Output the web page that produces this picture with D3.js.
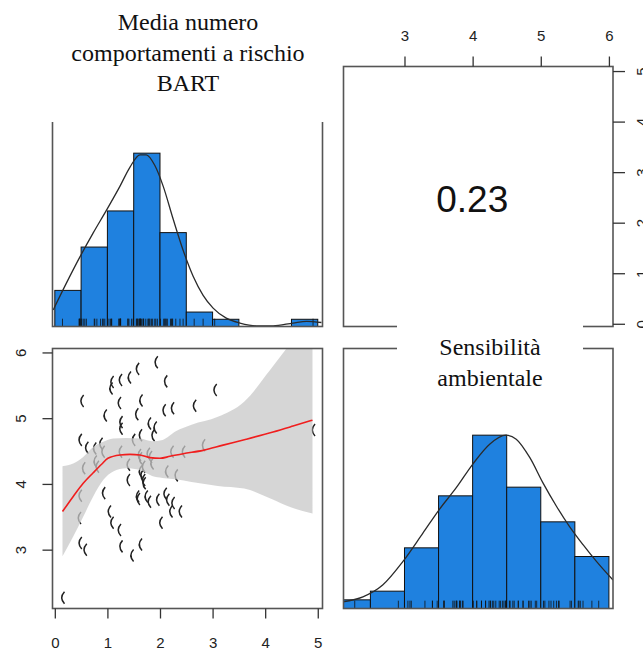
<!DOCTYPE html>
<html>
<head>
<meta charset="utf-8">
<script src="https://cdn.jsdelivr.net/npm/d3@7"></script>
<style>
  body { margin: 0; background: #fff; }
</style>
</head>
<body>
<svg id="chart" width="643" height="650"></svg>
<script>
// ---- data ----
// scatter: x = Media numero comportamenti a rischio BART, y = Sensibilità ambientale
var bartVals = [1.92,1.565,1.41,1.24,1.08,1.06,2.10,0.51,3.04,1.22,1.63,2.65,2.07,2.23,0.95,1.55,1.25,1.25,1.79,1.90,1.86,1.62,1.49,0.475,0.60,0.75,0.87,4.91,
  0.54,0.80,0.91,1.24,1.39,1.60,1.68,1.77,1.84,2.12,2.22,2.30,2.44,2.82,0.475,0.46,
  1.39,1.65,1.69,0.92,1.565,1.58,1.73,1.79,1.95,2.14,2.24,2.20,2.38,2.01,1.03,1.08,1.22,1.25,1.46,1.62,0.475,0.57,0.146,
  0.76,1.62,1.81,1.62,1.68,2.09];
var sensVals = [5.85,5.75,5.62,5.58,5.55,5.45,5.56,5.26,5.43,5.23,5.27,5.19,5.12,5.15,5.04,5.06,4.94,4.84,4.92,4.86,4.74,4.74,4.67,4.67,4.55,4.54,4.61,4.82,
  4.24,4.26,4.49,4.49,4.29,4.44,4.26,4.46,4.31,4.19,4.49,4.13,4.49,4.59,3.82,3.48,
  4.06,4.13,4.01,3.86,3.81,3.77,3.81,3.73,3.76,3.76,3.71,3.58,3.58,3.41,3.58,3.41,3.30,3.05,2.91,3.08,3.10,3.00,2.27,
  4.34,4.39,4.41,4.19,4.06,3.85];

// histograms (bin edges and counts)
var bartBreaks = [0,0.5,1,1.5,2,2.5,3,3.5,4,4.5,5];
var bartCounts = [5,11,16,24,13,2,1,0,0,1];
var sensBreaks = [2,2.5,3,3.5,4,4.5,5,5.5,6];
var sensCounts = [1,2,7,13,20,14,10,6];

// density curves (scaled so the peak = 1)
var bartDensX = [-0.03,0.22,0.475,0.73,0.98,1.24,1.43,1.62,1.74,1.90,2.06,2.25,2.44,2.63,2.82,3.01,3.26,3.52,3.83,4.15,4.53,4.79,5.07];
var bartDensY = [0.096,0.25,0.40,0.54,0.67,0.81,0.92,0.99,0.99,0.93,0.81,0.62,0.44,0.29,0.18,0.106,0.048,0.02,0.004,0.004,0.02,0.03,0.023];
var sensDensX = [2.09,2.39,2.68,2.975,3.27,3.51,3.76,4.00,4.25,4.49,4.64,4.84,5.03,5.23,5.42,5.62,5.82,6.06];
var sensDensY = [0.038,0.067,0.135,0.27,0.435,0.571,0.697,0.832,0.948,1.0,0.977,0.87,0.726,0.59,0.474,0.368,0.27,0.164];

// loess smooth and its confidence band
var smoothX = [0.146,0.35,0.54,0.73,0.89,1.01,1.24,1.43,1.62,1.81,2.00,2.19,2.44,2.82,3.20,3.64,4.15,4.53,4.90];
var smoothY = [3.58,3.81,4.01,4.17,4.30,4.39,4.44,4.45,4.44,4.40,4.39,4.42,4.46,4.51,4.59,4.68,4.79,4.88,4.97];
var bandX  = [0.146,0.35,0.54,0.73,0.92,1.11,1.36,1.62,1.85,2.05,2.3,2.6,3.1,3.6,4.1,4.5,4.9];
var bandHi = [4.27,4.31,4.41,4.56,4.64,4.69,4.70,4.69,4.65,4.67,4.80,4.90,5.02,5.25,5.74,6.16,6.58];
var bandLo = [2.90,3.20,3.50,3.81,4.06,4.19,4.24,4.21,4.12,4.09,4.07,4.03,3.97,3.93,3.78,3.64,3.55];

var corrText = "0.23";
var bartTicks = [0,1,2,3,4,5];
var sensTicks = [3,4,5,6];
var bartTitle = ["Media numero", "comportamenti a rischio", "BART"];
var sensTitle = ["Sensibilità", "ambientale"];

// ---- layout ----
var svg = d3.select("#chart");
var colL = [52.5, 322.5], colR = [343.5, 613];
var rowT = [66.5, 326.5], rowB = [348.5, 608.5];
var bartDom = [-0.044, 5.09], sensDom = [2.105, 6.06];
var histBlue = "#1f81df";
var frameCol = "#555";

function clip(id, xr, yr) {
  svg.append("clipPath").attr("id", id).append("rect")
    .attr("x", xr[0]).attr("y", yr[0])
    .attr("width", xr[1] - xr[0]).attr("height", yr[1] - yr[0]);
}
clip("cTL", colL, rowT); clip("cTR", colR, rowT);
clip("cBL", colL, rowB); clip("cBR", colR, rowB);

// diag histogram panel
function histPanel(id, xr, yr, dom, breaks, counts, densX, densY, rugVals) {
  var x = d3.scaleLinear().domain(dom).range(xr);
  var maxC = d3.max(counts);
  var y = d3.scaleLinear().domain([0, 1.5 * maxC]).range([yr[1], yr[0]]);
  var yd = d3.scaleLinear().domain([0, 1.5]).range([yr[1], yr[0]]);
  var g = svg.append("g").attr("clip-path", "url(#" + id + ")");
  g.selectAll("rect.bar").data(counts).enter().append("rect")
    .attr("class", "bar")
    .attr("x", function(d, i) { return x(breaks[i]); })
    .attr("width", function(d, i) { return x(breaks[i + 1]) - x(breaks[i]); })
    .attr("y", function(d) { return y(d); })
    .attr("height", function(d) { return y(0) - y(d); })
    .attr("fill", histBlue).attr("stroke", "#111").attr("stroke-width", 1)
    .style("display", function(d) { return d > 0 ? null : "none"; });
  // rug
  g.selectAll("line.rug").data(rugVals).enter().append("line")
    .attr("x1", function(d) { return x(d); }).attr("x2", function(d) { return x(d); })
    .attr("y1", yr[1]).attr("y2", yr[1] - 0.03 * (yr[1] - yr[0]))
    .attr("stroke", "#111").attr("stroke-width", 0.8);
  // density
  var line = d3.line()
    .x(function(d, i) { return x(densX[i]); })
    .y(function(d) { return yd(d); })
    .curve(d3.curveMonotoneX);
  g.append("path").attr("d", line(densY))
    .attr("fill", "none").attr("stroke", "#2b2b2b").attr("stroke-width", 1.3);
  return x;
}

histPanel("cTL", colL, rowT, bartDom, bartBreaks, bartCounts, bartDensX, bartDensY, bartVals);
histPanel("cBR", colR, rowB, sensDom, sensBreaks, sensCounts, sensDensX, sensDensY, sensVals);

// scatter panel (bottom-left)
var sx = d3.scaleLinear().domain(bartDom).range(colL);
var sy = d3.scaleLinear().domain(sensDom).range([rowB[1], rowB[0]]);
var gs = svg.append("g").attr("clip-path", "url(#cBL)");
gs.selectAll("path.pt").data(bartVals).enter().append("path")
  .attr("class", "pt")
  .attr("d", function(d, i) {
    var px = sx(d), py = sy(sensVals[i]);
    return "M" + (px + 2) + "," + (py - 6) + "Q" + (px - 3.5) + "," + py + " " + (px + 2) + "," + (py + 6);
  })
  .attr("fill", "none").attr("stroke", "#222").attr("stroke-width", 1.5);

var band = d3.area()
  .x(function(d, i) { return sx(bandX[i]); })
  .y0(function(d, i) { return sy(bandLo[i]); })
  .y1(function(d) { return sy(d); })
  .curve(d3.curveMonotoneX);
gs.append("path").attr("d", band(bandHi))
  .attr("fill", "#c8c8c8").attr("fill-opacity", 0.75);

var smooth = d3.line()
  .x(function(d, i) { return sx(smoothX[i]); })
  .y(function(d) { return sy(d); })
  .curve(d3.curveMonotoneX);
gs.append("path").attr("d", smooth(smoothY))
  .attr("fill", "none").attr("stroke", "#f01e1e").attr("stroke-width", 1.6);

// correlation panel (top-right)
svg.append("text").text(corrText)
  .attr("x", (colR[0] + colR[1]) / 2 - 6).attr("y", 211.5)
  .attr("text-anchor", "middle")
  .attr("font-family", "Liberation Sans, Arial, sans-serif")
  .attr("font-size", 37).attr("fill", "#111");

// frames
[[colL, rowT], [colR, rowT], [colL, rowB], [colR, rowB]].forEach(function(p) {
  svg.append("rect")
    .attr("x", p[0][0]).attr("y", p[1][0])
    .attr("width", p[0][1] - p[0][0]).attr("height", p[1][1] - p[1][0])
    .attr("fill", "none").attr("stroke", frameCol).attr("stroke-width", 1.6);
});

// axes
function styleAxis(g) {
  g.select(".domain").remove();
  g.selectAll(".tick line").attr("stroke", "#333").attr("stroke-width", 1.3);
  g.selectAll("text")
    .attr("font-family", "Liberation Sans, Arial, sans-serif")
    .attr("font-size", 15).attr("fill", "#222");
}
// bottom axis of scatter
var axB = svg.append("g").attr("transform", "translate(0," + rowB[1] + ")")
  .call(d3.axisBottom(sx).tickValues(bartTicks).tickSize(10).tickPadding(19).tickFormat(d3.format("d")));
styleAxis(axB);
// left axis of scatter, rotated labels
var axL = svg.append("g").attr("transform", "translate(" + colL[0] + ",0)")
  .call(d3.axisLeft(sy).tickValues(sensTicks).tickSize(10).tickFormat(d3.format("d")));
styleAxis(axL);
axL.selectAll("text").attr("transform", "rotate(-90)")
  .attr("x", 0).attr("y", -27).attr("dy", 0).attr("text-anchor", "middle");
// top axis of correlation panel
var sx2 = d3.scaleLinear().domain(sensDom).range(colR);
var axT = svg.append("g").attr("transform", "translate(0," + rowT[0] + ")")
  .call(d3.axisTop(sx2).tickValues(sensTicks).tickSize(10).tickPadding(16).tickFormat(d3.format("d")));
styleAxis(axT);
// right axis of correlation panel
var sy1 = d3.scaleLinear().domain(bartDom).range([rowT[1] - 0.5, rowT[0]]);
var axR = svg.append("g").attr("transform", "translate(" + colR[1] + ",0)")
  .call(d3.axisRight(sy1).tickValues(bartTicks).tickSize(12).tickFormat(d3.format("d")));
styleAxis(axR);
axR.selectAll("text").attr("transform", "rotate(-90)")
  .attr("x", 0).attr("y", 34).attr("dy", 0).attr("text-anchor", "middle");

// variable names on white boxes
svg.append("rect").attr("x", 38).attr("y", 0).attr("width", 298).attr("height", 122).attr("fill", "#fff");
svg.append("rect").attr("x", 397).attr("y", 318).attr("width", 186).attr("height", 76).attr("fill", "#fff");

function title(lines, cx, y0) {
  svg.append("g").selectAll("text").data(lines).enter().append("text")
    .text(function(d) { return d; })
    .attr("x", cx).attr("y", function(d, i) { return y0 + i * 30.5; })
    .attr("text-anchor", "middle")
    .attr("font-family", "Liberation Serif, Times New Roman, serif")
    .attr("font-size", 24).attr("fill", "#111");
}
title(bartTitle, 188, 30);
title(sensTitle, 490, 355);
</script>
</body>
</html>
